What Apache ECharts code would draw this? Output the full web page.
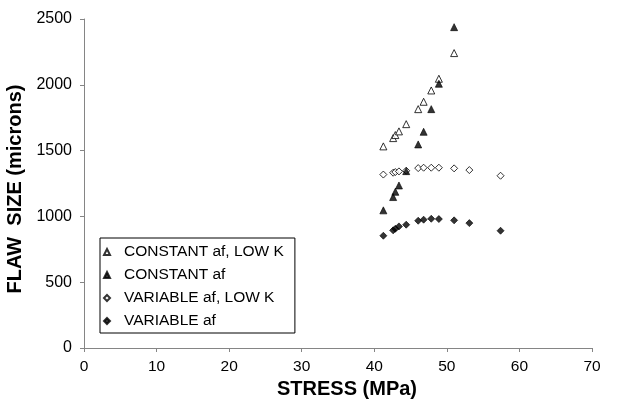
<!DOCTYPE html>
<html>
<head>
<meta charset="utf-8">
<script src="https://cdn.jsdelivr.net/npm/echarts@6/dist/echarts.min.js"></script>
<style>
  html, body { margin: 0; padding: 0; background: #fff; }
  #chart { width: 620px; height: 403px; }
</style>
</head>
<body>
<div id="chart"></div>
<script>
// Stress values (MPa) shared by the constant-af series
const stressConst = [41.25, 42.6, 42.9, 43.4, 44.4, 46.05, 46.8, 47.85, 48.9, 51.0];
// Stress values (MPa) for the variable-af series, which extend further
const stressVar = [41.25, 42.6, 42.9, 43.4, 44.4, 46.05, 46.8, 47.85, 48.9, 51.0, 53.1, 57.4];

// Flaw size (microns)
const constLowK = [1532, 1595, 1618, 1646, 1701, 1815, 1871, 1957, 2046, 2241];
const constAf   = [1046, 1147, 1187, 1235, 1344, 1547, 1643, 1815, 2008, 2438];
const varLowK   = [1318, 1332, 1337, 1342, 1347, 1367, 1370, 1370, 1370, 1365, 1352, 1309];
const varAf     = [853, 894, 906, 924, 937, 967, 975, 982, 980, 970, 949, 891];

const seriesNames = ['CONSTANT af, LOW K', 'CONSTANT af', 'VARIABLE af, LOW K', 'VARIABLE af'];

const xTicks = { min: 0, max: 70, interval: 10 };
const yTicks = { min: 0, max: 2500, interval: 500 };

function pairs(xs, ys) { return ys.map((y, i) => [xs[i], y]); }

const axisGrey = '#858585';
const font = 'Liberation Sans, Arial, sans-serif';
const markSize = 7;

const chart = echarts.init(document.getElementById('chart'), null, { renderer: 'canvas' });
chart.setOption({
  animation: false,
  backgroundColor: '#ffffff',
  grid: { left: 84, right: 28, top: 19, bottom: 55, containLabel: false, outerBoundsMode: 'none' },
  xAxis: {
    type: 'value',
    min: xTicks.min, max: xTicks.max, interval: xTicks.interval,
    name: 'STRESS (MPa)', nameLocation: 'middle', nameGap: 29,
    nameTextStyle: { fontFamily: font, fontSize: 20, fontWeight: 'bold', color: '#000', padding: [0, 0, 0, 18] },
    axisLine: { lineStyle: { color: axisGrey, width: 1 } },
    axisTick: { show: true, length: 4, inside: false, lineStyle: { color: axisGrey } },
    axisLabel: { fontFamily: font, fontSize: 15.5, color: '#000', margin: 11 },
    splitLine: { show: false }
  },
  yAxis: {
    type: 'value',
    min: yTicks.min, max: yTicks.max, interval: yTicks.interval,
    name: 'FLAW  SIZE (microns)', nameLocation: 'middle', nameGap: 52,
    nameTextStyle: { fontFamily: font, fontSize: 20, fontWeight: 'bold', color: '#000', padding: [0, 11, 0, 0] },
    axisLine: { show: true, lineStyle: { color: axisGrey, width: 1 } },
    axisTick: { show: true, length: 4, inside: false, lineStyle: { color: axisGrey } },
    axisLabel: { fontFamily: font, fontSize: 16, color: '#000', margin: 12, formatter: v => String(v) },
    splitLine: { show: false }
  },
  legend: {
    orient: 'vertical',
    left: 100, top: 238,
    padding: [5, 11, 3, 3],
    borderColor: '#000', borderWidth: 1,
    backgroundColor: '#fff',
    itemWidth: 6, itemHeight: 6, itemGap: 5,
    textStyle: { fontFamily: font, fontSize: 15.5, color: '#000', lineHeight: 18, padding: [0, 0, 0, 9] },
    data: seriesNames
  },
  series: [
    {
      name: seriesNames[0], type: 'scatter', symbol: 'triangle', symbolSize: markSize,
      itemStyle: { color: '#fff', borderColor: '#000', borderWidth: 1 },
      data: pairs(stressConst, constLowK), z: 3
    },
    {
      name: seriesNames[1], type: 'scatter', symbol: 'triangle', symbolSize: markSize,
      itemStyle: { color: '#000', borderColor: '#000', borderWidth: 0.8 },
      data: pairs(stressConst, constAf), z: 4
    },
    {
      name: seriesNames[2], type: 'scatter', symbol: 'diamond', symbolSize: markSize,
      itemStyle: { color: '#fff', borderColor: '#000', borderWidth: 1 },
      data: pairs(stressVar, varLowK), z: 3
    },
    {
      name: seriesNames[3], type: 'scatter', symbol: 'diamond', symbolSize: markSize,
      itemStyle: { color: '#000', borderColor: '#000', borderWidth: 0.8 },
      data: pairs(stressVar, varAf), z: 4
    }
  ]
});
</script>
</body>
</html>
